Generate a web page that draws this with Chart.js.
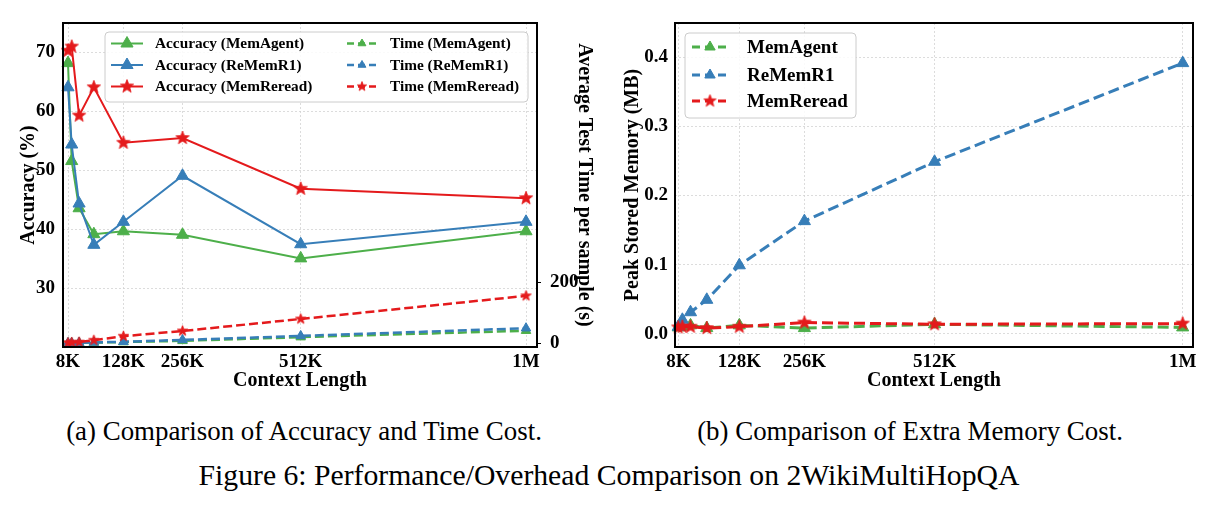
<!DOCTYPE html>
<html><head><meta charset="utf-8">
<script src="https://cdn.jsdelivr.net/npm/chart.js@4.4.1/dist/chart.umd.min.js"></script>
<style>
html,body{margin:0;padding:0;background:#fff;width:1213px;height:510px;overflow:hidden;}
#c1{position:absolute;left:0;top:0;}
#c2{position:absolute;left:600px;top:0;}
.cap{position:absolute;font-family:'Liberation Serif','Times New Roman',serif;color:#000;white-space:nowrap;line-height:1;transform:translateX(-50%);}
</style></head><body>
<canvas id="c1" width="600" height="400"></canvas>
<canvas id="c2" width="613" height="400"></canvas>
<div class="cap" style="left:304px;top:418px;font-size:26.9px">(a) Comparison of Accuracy and Time Cost.</div>
<div class="cap" style="left:910px;top:418px;font-size:26.9px">(b) Comparison of Extra Memory Cost.</div>
<div class="cap" style="left:609px;top:461px;font-size:29.7px">Figure 6: Performance/Overhead Comparison on 2WikiMultiHopQA</div>
<script>
// ---- data ----
const contextK = [8, 16, 32, 64, 128, 256, 512, 1000];
const xTickValues = [8, 128, 256, 512, 1000];
const xTickLabels = ['8K', '128K', '256K', '512K', '1M'];
const accTicks = [30, 40, 50, 60, 70];
const timeTicks = [0, 200];
const memTicks = [0.0, 0.1, 0.2, 0.3, 0.4];

const accMemAgent   = [68.2, 51.6, 43.6, 39.2, 39.7, 39.1, 35.1, 39.7];
const accReMemR1    = [64.1, 54.4, 44.4, 37.4, 41.3, 49.1, 37.5, 41.3];
const accMemReread  = [70.3, 71.0, 59.3, 64.1, 54.7, 55.5, 46.9, 45.3];

const timeMemAgent  = [0.5, 1, 1.5, 2.5, 4, 8, 20, 41];
const timeReMemR1   = [0.8, 1.2, 2, 3, 5, 11, 24, 49];
const timeMemReread = [2, 3, 4, 10, 23, 40, 79, 154];

const memMemAgent   = [0.009, 0.010, 0.012, 0.008, 0.012, 0.008, 0.0135, 0.009];
const memReMemR1    = [0.010, 0.020, 0.031, 0.049, 0.099, 0.163, 0.249, 0.392];
const memMemReread  = [0.009, 0.010, 0.010, 0.008, 0.010, 0.016, 0.0135, 0.0145];

const C_AGENT = '#4daf4a', C_REMEM = '#377eb8', C_REREAD = '#e41a1c';
const FONT = "'Liberation Serif','Times New Roman',serif";

Chart.defaults.font.family = FONT;
Chart.defaults.font.weight = 'bold';
Chart.defaults.color = '#000';

function makeStar(color, R) {
  const s = Math.ceil(2 * R + 2);
  const c = document.createElement('canvas'); c.width = s; c.height = s;
  const g = c.getContext('2d');
  const cx = s / 2, cy = s / 2, r = R * 0.42;
  g.beginPath();
  for (let i = 0; i < 10; i++) {
    const rad = i % 2 === 0 ? R : r;
    const a = -Math.PI / 2 + i * Math.PI / 5;
    const px = cx + rad * Math.cos(a), py = cy + rad * Math.sin(a);
    if (i) g.lineTo(px, py); else g.moveTo(px, py);
  }
  g.closePath(); g.fillStyle = color; g.fill();
  g.lineWidth = 0.8; g.strokeStyle = color; g.stroke();
  return c;
}

function ds(label, data, color, axis, dash, style, radius, width) {
  return {
    label, data: contextK.map((x, i) => ({x, y: data[i]})), yAxisID: axis,
    borderColor: color, backgroundColor: color, borderWidth: width, borderDash: dash,
    pointStyle: style, pointRadius: radius, pointBorderWidth: 1,
    pointBorderColor: color, pointBackgroundColor: color, tension: 0, fill: false, clip: false
  };
}

function drawMarker(ctx, style, radius, color, x, y) {
  if (style === 'triangle') {
    ctx.beginPath();
    let rad = 0;
    for (let k = 0; k < 3; k++) {
      const px = x + Math.sin(rad) * radius, py = y - Math.cos(rad) * radius;
      if (k) ctx.lineTo(px, py); else ctx.moveTo(px, py);
      rad += 2 * Math.PI / 3;
    }
    ctx.closePath();
    ctx.fillStyle = color; ctx.strokeStyle = color; ctx.lineWidth = 1; ctx.setLineDash([]);
    ctx.fill(); ctx.stroke();
  } else {
    ctx.drawImage(style, x - style.width / 2, y - style.height / 2);
  }
}

const frameLegend = {
  id: 'frameLegend',
  afterDraw(chart, args, opts) {
    const {ctx, chartArea: a} = chart;
    ctx.save();
    ctx.setLineDash([]);
    ctx.strokeStyle = '#000'; ctx.lineWidth = 2;
    ctx.strokeRect(a.left, a.top, a.right - a.left, a.bottom - a.top);
    if (opts && opts.rightTicks) {
      const sc = chart.scales[opts.rightTicks];
      ctx.lineWidth = 1;
      for (const t of sc.ticks) {
        const yy = Math.round(sc.getPixelForValue(t.value)) + 0.5;
        ctx.beginPath(); ctx.moveTo(a.right, yy); ctx.lineTo(a.right + 4, yy); ctx.stroke();
      }
    }
    if (opts && opts.box) {
      const b = opts.box, r = 4;
      ctx.beginPath();
      ctx.moveTo(b.x + r, b.y);
      ctx.arcTo(b.x + b.w, b.y, b.x + b.w, b.y + b.h, r);
      ctx.arcTo(b.x + b.w, b.y + b.h, b.x, b.y + b.h, r);
      ctx.arcTo(b.x, b.y + b.h, b.x, b.y, r);
      ctx.arcTo(b.x, b.y, b.x + b.w, b.y, r);
      ctx.closePath();
      ctx.fillStyle = 'rgba(255,255,255,0.85)'; ctx.fill();
      ctx.strokeStyle = '#cccccc'; ctx.lineWidth = 1; ctx.stroke();
      for (const it of opts.items) {
        ctx.save();
        ctx.strokeStyle = it.color; ctx.lineWidth = it.lw;
        ctx.setLineDash(it.dash);
        ctx.beginPath(); ctx.moveTo(it.x0, it.y); ctx.lineTo(it.x1, it.y); ctx.stroke();
        ctx.restore();
        drawMarker(ctx, it.style, it.r, it.color, (it.x0 + it.x1) / 2, it.y);
        ctx.fillStyle = '#000';
        ctx.font = 'bold ' + opts.fontSize + 'px ' + FONT;
        ctx.textBaseline = 'middle'; ctx.textAlign = 'left';
        ctx.fillText(it.label, it.tx, it.y + 1);
      }
    }
    ctx.restore();
  }
};

const gridOpts = {color: '#d4d4d4', lineWidth: 0.8, drawTicks: false};
const borderOpts = {display: false, dash: [2, 2]};

// ---- chart (a) ----
const starAccR = makeStar(C_REREAD, 7);
const starTimeR = makeStar(C_REREAD, 5.5);
const starLegA = makeStar(C_REREAD, 7);
const starLegT = makeStar(C_REREAD, 5);

new Chart(document.getElementById('c1'), {
  type: 'line',
  data: {datasets: [
    ds('Time (MemReread)', timeMemReread, C_REREAD, 'yT', [9, 4], starTimeR, 5.5, 2.5),
    ds('Time (ReMemR1)', timeReMemR1, C_REMEM, 'yT', [9, 4], 'triangle', 5.5, 2.5),
    ds('Time (MemAgent)', timeMemAgent, C_AGENT, 'yT', [9, 4], 'triangle', 5.5, 2.5),
    ds('Accuracy (MemReread)', accMemReread, C_REREAD, 'yA', [], starAccR, 7, 2),
    ds('Accuracy (ReMemR1)', accReMemR1, C_REMEM, 'yA', [], 'triangle', 7, 2),
    ds('Accuracy (MemAgent)', accMemAgent, C_AGENT, 'yA', [], 'triangle', 7, 2)
  ]},
  plugins: [frameLegend],
  options: {
    responsive: false, animation: false, devicePixelRatio: 1, events: [],
    layout: {padding: {top: 23, left: 0, right: 0, bottom: 0}},
    plugins: {
      legend: {display: false}, tooltip: {enabled: false},
      frameLegend: {
        fontSize: 15.3,
        rightTicks: 'yT',
        box: {x: 105, y: 32, w: 423, h: 70},
        items: [
          {label: 'Accuracy (MemAgent)', color: C_AGENT, dash: [], lw: 2, style: 'triangle', r: 7, x0: 111, x1: 143, tx: 155, y: 43.5},
          {label: 'Accuracy (ReMemR1)', color: C_REMEM, dash: [], lw: 2, style: 'triangle', r: 7, x0: 111, x1: 143, tx: 155, y: 65},
          {label: 'Accuracy (MemReread)', color: C_REREAD, dash: [], lw: 2, style: starLegA, r: 7, x0: 111, x1: 143, tx: 155, y: 86.5},
          {label: 'Time (MemAgent)', color: C_AGENT, dash: [7, 4], lw: 2.5, style: 'triangle', r: 4.5, x0: 347, x1: 377, tx: 390, y: 43.5},
          {label: 'Time (ReMemR1)', color: C_REMEM, dash: [7, 4], lw: 2.5, style: 'triangle', r: 4.5, x0: 347, x1: 377, tx: 390, y: 65},
          {label: 'Time (MemReread)', color: C_REREAD, dash: [7, 4], lw: 2.5, style: starLegT, r: 5, x0: 347, x1: 377, tx: 390, y: 86.5}
        ]
      }
    },
    scales: {
      x: {
        type: 'linear', min: -2.83, max: 1023.8,
        afterBuildTicks: s => { s.ticks = xTickValues.map(v => ({value: v})); },
        afterFit: s => { s.height = 53; },
        ticks: {callback: v => xTickLabels[xTickValues.indexOf(v)], autoSkip: false, maxRotation: 0, padding: 4, font: {size: 19, weight: 'bold'}},
        grid: gridOpts, border: borderOpts,
        title: {display: true, text: 'Context Length', font: {size: 20, weight: 'bold'}, padding: {top: 0, bottom: 7}}
      },
      yA: {
        type: 'linear', position: 'left', min: 20.08, max: 75,
        afterBuildTicks: s => { s.ticks = accTicks.map(v => ({value: v})); },
        afterFit: s => { s.width = 63; },
        ticks: {padding: 8, font: {size: 19, weight: 'bold'}},
        grid: gridOpts, border: borderOpts,
        title: {display: true, text: 'Accuracy (%)', font: {size: 20, weight: 'bold'}, padding: {top: 17, bottom: 0}}
      },
      yT: {
        type: 'linear', position: 'right', min: -12, max: 1040,
        afterBuildTicks: s => { s.ticks = timeTicks.map(v => ({value: v})); },
        afterFit: s => { s.width = 63; },
        ticks: {padding: 5, font: {size: 19, weight: 'bold'}},
        grid: {display: false}, border: {display: false},
        title: {display: true, text: 'Average Test Time per sample (s)', font: {size: 20, weight: 'bold'}, padding: {top: 4, bottom: 0}}
      }
    }
  }
});

// ---- chart (b) ----
const starMem = makeStar(C_REREAD, 7);
const starLegM = makeStar(C_REREAD, 6.5);

new Chart(document.getElementById('c2'), {
  type: 'line',
  data: {datasets: [
    ds('MemReread', memMemReread, C_REREAD, 'y', [11, 5], starMem, 7, 3),
    ds('ReMemR1', memReMemR1, C_REMEM, 'y', [11, 5], 'triangle', 7, 3),
    ds('MemAgent', memMemAgent, C_AGENT, 'y', [11, 5], 'triangle', 7, 3)
  ]},
  plugins: [frameLegend],
  options: {
    responsive: false, animation: false, devicePixelRatio: 1, events: [],
    layout: {padding: {top: 23, left: 0, right: 20, bottom: 0}},
    plugins: {
      legend: {display: false}, tooltip: {enabled: false},
      frameLegend: {
        fontSize: 19,
        box: {x: 85, y: 33, w: 171, h: 85},
        items: [
          {label: 'MemAgent', color: C_AGENT, dash: [8, 5], lw: 3, style: 'triangle', r: 6, x0: 92, x1: 128, tx: 147, y: 47},
          {label: 'ReMemR1', color: C_REMEM, dash: [8, 5], lw: 3, style: 'triangle', r: 6, x0: 92, x1: 128, tx: 147, y: 75},
          {label: 'MemReread', color: C_REREAD, dash: [8, 5], lw: 3, style: starLegM, r: 6.5, x0: 92, x1: 128, tx: 147, y: 101}
        ]
      }
    },
    scales: {
      x: {
        type: 'linear', min: 1.5, max: 1020.3,
        afterBuildTicks: s => { s.ticks = xTickValues.map(v => ({value: v})); },
        afterFit: s => { s.height = 53; },
        ticks: {callback: v => xTickLabels[xTickValues.indexOf(v)], autoSkip: false, maxRotation: 0, padding: 4, font: {size: 19, weight: 'bold'}},
        grid: gridOpts, border: borderOpts,
        title: {display: true, text: 'Context Length', font: {size: 20, weight: 'bold'}, padding: {top: 0, bottom: 7}}
      },
      y: {
        type: 'linear', position: 'left', min: -0.0194, max: 0.4501,
        afterBuildTicks: s => { s.ticks = memTicks.map(v => ({value: v})); },
        afterFit: s => { s.width = 75; },
        ticks: {padding: 7, callback: v => v.toFixed(1), font: {size: 19, weight: 'bold'}},
        grid: gridOpts, border: borderOpts,
        title: {display: true, text: 'Peak Stored Memory (MB)', font: {size: 20, weight: 'bold'}, padding: {top: 21, bottom: 0}}
      }
    }
  }
});
</script>
</body></html>
